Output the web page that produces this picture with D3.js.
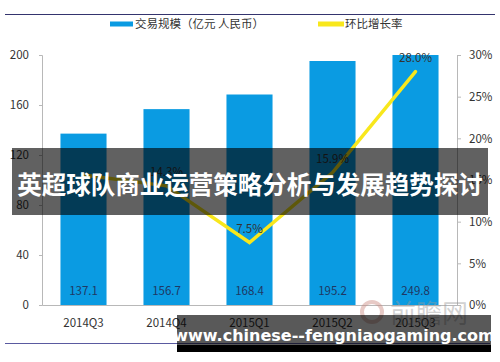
<!DOCTYPE html>
<head>
    <meta charset="utf-8">
    <script src="https://d3js.org/d3.v7.min.js"></script>
    <style>
      body { margin: 0; background: #fff; }
      text {
        font-family: "Noto Sans CJK SC", "Noto Sans", sans-serif;
        fill: #333;
      }
      .axislabel { font-size: 11.5px; }
      .barlabel { font-size: 11.5px; fill: #1f3864; }
      .ratelabel { font-size: 11.5px; fill: #333; }
    </style>
<body>
    <script>
        // data
        var quarters = ["2014Q3","2014Q4","2015Q1","2015Q2","2015Q3"]
        var volume = [137.1, 156.7, 168.4, 195.2, 249.8]
        var growth = [15.6, 14.3, 7.5, 15.9, 28.0]
        var growthLabels = [null, "14.3%", "7.5%", "15.9%", "28.0%"]
        var leftTicks = [0, 40, 80, 120, 160, 200]
        var rightTicks = [0, 5, 10, 15, 20, 25, 30]
        var legendNames = ["交易规模（亿元 人民币）", "环比增长率"]
        var title = "英超球队商业运营策略分析与发展趋势探讨"
        var siteText = "www.chinese--fengniaogaming.com"

        var svg_w = 500, svg_h = 362
        var svg = d3.select("body").append("svg")
          .attr("width", svg_w)
          .attr("height", svg_h)

        var plotL = 42, plotR = 457, plotT = 55, plotB = 305

        var x = d3.scaleBand().domain(quarters).range([plotL, plotR]).paddingInner(0.445).paddingOuter(0.2225)
        var y = d3.scaleLinear().domain([0, 200]).range([plotB, plotT]).clamp(true)
        var y2 = d3.scaleLinear().domain([0, 30]).range([plotB, plotT])

        // frame lines
        svg.append("line").attr("x1", 5).attr("x2", 495).attr("y1", 14.5).attr("y2", 14.5)
          .attr("stroke", "#34346e").attr("stroke-width", 1.2)
        svg.append("line").attr("x1", 5).attr("x2", 490).attr("y1", 343.5).attr("y2", 343.5)
          .attr("stroke", "#5a5aa0").attr("stroke-width", 1)

        // legend
        var lg = svg.append("g")
        lg.append("rect").attr("x", 110).attr("y", 21.5).attr("width", 23).attr("height", 5).attr("fill", "#0a9be2")
        lg.append("text").attr("x", 135).attr("y", 28).attr("font-size", "11.5px").text(legendNames[0])
        lg.append("rect").attr("x", 318).attr("y", 21.5).attr("width", 26).attr("height", 5).attr("fill", "#f8e71c")
        lg.append("text").attr("x", 345).attr("y", 28).attr("font-size", "11.5px").text(legendNames[1])

        // faint watermark
        svg.append("text").attr("x", 250).attr("y", 150).attr("text-anchor", "middle")
          .attr("transform", "rotate(-25,250,150)")
          .attr("font-size", "40px").style("fill", "#000").style("fill-opacity", 0.025)
          .text("前瞻产业研究院")

        // bars
        svg.selectAll(".bar").data(volume).enter().append("rect")
          .attr("x", function(d, i){ return x(quarters[i]) })
          .attr("y", function(d){ return y(d) })
          .attr("width", x.bandwidth())
          .attr("height", function(d){ return plotB - y(d) })
          .attr("fill", "#0a9be2")

        svg.selectAll(".barlabel").data(volume).enter().append("text")
          .classed("barlabel", true)
          .attr("x", function(d, i){ return x(quarters[i]) + x.bandwidth()/2 })
          .attr("y", plotB - 10)
          .attr("text-anchor", "middle")
          .text(function(d){ return d.toFixed(1) })

        // axes
        var yAxis = svg.append("g").attr("transform", "translate(" + plotL + ",0)")
          .call(d3.axisLeft(y).tickValues(leftTicks).tickSize(3).tickPadding(10))
        var y2Axis = svg.append("g").attr("transform", "translate(" + plotR + ",0)")
          .call(d3.axisRight(y2).tickValues(rightTicks).tickSize(4).tickPadding(8).tickFormat(function(d){ return d + "%" }))
        var xAxis = svg.append("g").attr("transform", "translate(0," + plotB + ")")
          .call(d3.axisBottom(x).tickSize(0).tickPadding(12))
        ;[yAxis, y2Axis, xAxis].forEach(function(a){
          a.select(".domain").attr("stroke", "#b8b8b8")
          a.selectAll(".tick line").attr("stroke", "#b8b8b8")
          a.selectAll("text").attr("class", "axislabel").attr("fill", null)
        })
        xAxis.selectAll("text").attr("dy", "0.9em")

        // growth line
        var line = d3.line()
          .x(function(d, i){ return x(quarters[i]) + x.bandwidth()/2 })
          .y(function(d){ return y2(d) })
        svg.append("path").datum(growth)
          .attr("d", line)
          .attr("fill", "none")
          .attr("stroke", "#f8e71c")
          .attr("stroke-width", 3.5)
          .attr("stroke-linecap", "round")
          .attr("stroke-linejoin", "miter")

        svg.selectAll(".ratelabel").data(growth).enter().append("text")
          .classed("ratelabel", true)
          .attr("x", function(d, i){ return x(quarters[i]) + x.bandwidth()/2 })
          .attr("y", function(d){ return y2(d) - 10 })
          .attr("text-anchor", "middle")
          .text(function(d, i){ return growthLabels[i] })

        // site watermark
        svg.append("circle").attr("cx", 372).attr("cy", 312).attr("r", 10)
          .attr("fill", "none").attr("stroke", "#c98a80").attr("stroke-width", 4).attr("stroke-opacity", 0.45)
        svg.append("text").attr("x", 390).attr("y", 323).attr("font-size", "26px")
          .style("fill", "#999").style("fill-opacity", 0.45).text("前瞻网")

        // overlay banners
        svg.append("rect").attr("x", 12).attr("y", 148).attr("width", 476).attr("height", 67)
          .attr("fill", "#000").attr("fill-opacity", 0.62)
        svg.append("text").attr("x", 250).attr("y", 194).attr("text-anchor", "middle")
          .attr("font-size", "24.5px").attr("font-weight", "bold").style("fill", "#fff")
          .text(title)

        svg.append("rect").attr("x", 177).attr("y", 315).attr("width", 314).attr("height", 30)
          .attr("fill", "#000").attr("fill-opacity", 0.65)
        svg.append("rect").attr("x", 177).attr("y", 345).attr("width", 314).attr("height", 7)
          .attr("fill", "#000")
        svg.append("text").attr("x", 334).attr("y", 341).attr("text-anchor", "middle")
          .attr("font-size", "16px").attr("font-weight", "bold")
          .style("font-family", "'DejaVu Sans', sans-serif").style("fill", "#fff")
          .text(siteText)
    </script>
</body>
